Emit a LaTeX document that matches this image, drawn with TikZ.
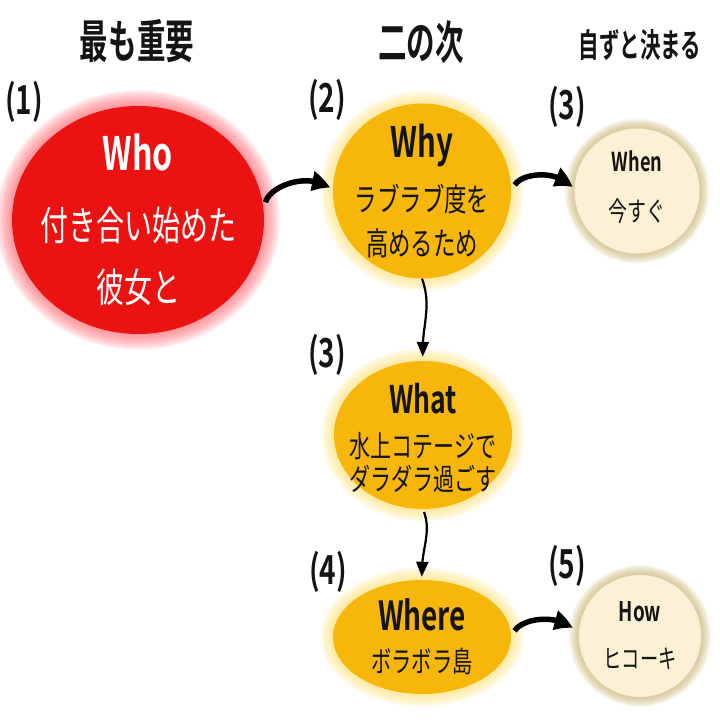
\documentclass[tikz,border=0pt]{standalone}
\usepackage{fontspec}
\setmainfont{Noto Sans CJK JP}[FakeStretch=0.7, BoldFont={Noto Sans CJK JP Bold}]
\newfontfamily\headfont{Noto Sans CJK JP Bold}[FakeStretch=0.62]
\usetikzlibrary{shapes.geometric,arrows.meta,bending,backgrounds}

\definecolor{whored}{RGB}{235,18,18}
\definecolor{whopink}{RGB}{255,90,100}
\definecolor{midorange}{RGB}{246,183,10}
\definecolor{glowyellow}{RGB}{255,222,110}
\definecolor{cream}{RGB}{252,241,212}
\definecolor{tan}{RGB}{195,172,100}
\definecolor{ink}{RGB}{20,20,20}

% soft glow round a bubble: node, colour, rx, ry, spread
\newcommand{\halo}[5]{%
  \foreach \k in {1,...,10}
    \fill[#2, opacity=0.09] (#1.center) ellipse ({#3+\k*#5/10} and {#4+\k*#5/10});
}

\begin{document}
\begin{tikzpicture}[x=1pt,y=1pt,
    bubble/.style={ellipse, inner sep=0pt},
    redbub/.style={bubble, fill=whored},
    orangebub/.style={bubble, fill=midorange},
    creambub/.style={bubble, fill=cream},
    bubtext/.style={align=center, inner sep=0pt, text=ink},
    thickarrow/.style={-{Triangle[length=19pt,width=19pt,bend]}, line width=5.5pt, black},
    thinarrow/.style={-{Triangle[length=15pt,width=12pt]}, line width=2.2pt, black},
    numlabel/.style={font=\bfseries\fontsize{40}{40}\selectfont, text=ink},
    headlabel/.style={font=\headfont\fontsize{46}{46}\selectfont, text=ink}]
   \useasboundingbox (0,0) rectangle (720,720);
   % headings
   \node [headlabel] (most) at (137,679) {最も重要};
   \node [headlabel] (second) at (421,678) {二の次};
   \node [headlabel, font=\headfont\fontsize{33}{33}\selectfont] (auto) at (640,675) {自ずと決まる};
   % numbers
   \node [numlabel] (n1) at (24,618) {(1)};
   \node [numlabel] (n2) at (327,620) {(2)};
   \node [numlabel] (n3a) at (567,613) {(3)};
   \node [numlabel] (n3b) at (327,365) {(3)};
   \node [numlabel] (n4) at (328,148) {(4)};
   \node [numlabel] (n5) at (567,154) {(5)};
   % bubbles
   \node [redbub, minimum width=252, minimum height=228] (who) at (138,500) {};
   \node [orangebub, minimum width=178, minimum height=175] (why) at (422,529) {};
   \node [creambub, minimum width=125, minimum height=125] (when) at (637,529) {};
   \node [orangebub, minimum width=178, minimum height=148] (what) at (423,285) {};
   \node [orangebub, minimum width=178, minimum height=114] (where) at (422,83) {};
   \node [creambub, minimum width=122, minimum height=122] (how) at (640,84) {};
   % texts
   \node [bubtext, text=white, font=\fontsize{40}{62}\selectfont] (whotext) at (who.center)
      {{\bfseries\fontsize{46}{62}\selectfont Who}\\[8pt]付き合い始めた\\彼女と};
   \node [bubtext, font=\fontsize{32}{44}\selectfont] (whytext) at (why.center)
      {{\bfseries\fontsize{42}{44}\selectfont Why}\\[10pt]ラブラブ度を\\高めるため};
   \node [bubtext, font=\fontsize{27}{50}\selectfont] (whentext) at ([yshift=4pt]when.center)
      {{\bfseries\fontsize{26}{50}\selectfont When}\\今すぐ};
   \node [bubtext, font=\fontsize{30}{33}\selectfont] (whattext) at ([yshift=-3pt]what.center)
      {{\bfseries\fontsize{38}{33}\selectfont What}\\[11pt]水上コテージで\\ダラダラ過ごす};
   \node [bubtext, font=\fontsize{29}{42}\selectfont] (wheretext) at (where.center)
      {{\bfseries\fontsize{40}{42}\selectfont Where}\\ボラボラ島};
   \node [bubtext, font=\fontsize{26}{47}\selectfont] (howtext) at (how.center)
      {{\bfseries\fontsize{27}{47}\selectfont How}\\ヒコーキ};
   % glows
   \begin{scope}[on background layer]
      \halo{who}{whopink}{126}{114}{16}
      \halo{why}{glowyellow}{89}{87.5}{13}
      \halo{when}{tan}{62.5}{62.5}{10}
      \halo{what}{glowyellow}{89}{74}{13}
      \halo{where}{glowyellow}{89}{57}{13}
      \halo{how}{tan}{61}{61}{10}
   \end{scope}
   % arrows
   \draw [thickarrow, shorten <=7pt, shorten >=4pt] (who.5) to[bend left=60] (why.west);
   \draw [thickarrow, shorten <=7pt, shorten >=4pt] (why.east) to[bend left=60] (when.west);
   \draw [thinarrow, shorten >=4pt] (why.south) to[out=-70,in=95] (what.north);
   \draw [thinarrow, shorten <=3pt, shorten >=3pt] (what.south) to[out=-70,in=95] (where.north);
   \draw [thickarrow, shorten <=7pt, shorten >=10pt] (where.east) to[bend left=60] (how.west);
\end{tikzpicture}
\end{document}
